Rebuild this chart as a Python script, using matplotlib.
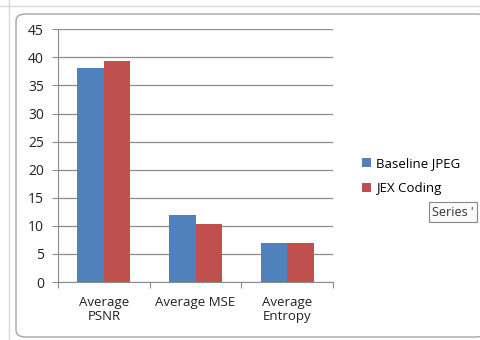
import numpy as np
import matplotlib.pyplot as plt
from matplotlib.patches import FancyBboxPatch

# data
categories = ['Average\nPSNR', 'Average MSE', 'Average\nEntropy']
baseline_jpeg = [38.1, 11.9, 6.9]
jex_coding = [39.3, 10.3, 6.9]
yticks = [0, 5, 10, 15, 20, 25, 30, 35, 40, 45]

blue = '#4F81BD'
red = '#C0504D'
gridc = '#8C8C8C'

plt.rcParams['font.family'] = ['Open Sans', 'DejaVu Sans']

fig = plt.figure(figsize=(4.8, 3.4), dpi=100)
W, H = 480, 340

# chart-area frame (rounded) like the excel screenshot
frame = FancyBboxPatch((16 / W, 3 / H), 470 / W, 323 / H,
                       boxstyle='round,pad=0,rounding_size=0.02',
                       transform=fig.transFigure, facecolor='white',
                       edgecolor='#A6A6A6', linewidth=1.0, zorder=-10)
fig.patches.append(frame)
# light sheet border lines at left / top
fig.add_artist(plt.Line2D([9 / W, 9 / W], [0, 1], color='#D9D9D9', lw=1, zorder=-11))
fig.add_artist(plt.Line2D([0, 1], [(H - 6) / H, (H - 6) / H], color='#D9D9D9', lw=1, zorder=-11))

ax = fig.add_axes([58 / W, (H - 282) / H, (333 - 58) / W, (282 - 29.3) / H])
ax.set_zorder(5)
ax.patch.set_alpha(0)
x = np.arange(len(categories))
w = 0.29
ax.bar(x - w / 2, baseline_jpeg, w, color=blue, label='Baseline JPEG', zorder=3)
ax.bar(x + w / 2, jex_coding, w, color=red, label='JEX Coding', zorder=3)

ax.set_xlim(-0.5, 2.5)
ax.set_ylim(0, 45)
ax.set_yticks(yticks)
ax.yaxis.grid(True, color=gridc, lw=0.9, zorder=0)
ax.set_axisbelow(True)
ax.set_xticks([-0.5, 0.5, 1.5, 2.5])
ax.set_xticklabels([])
ax.set_xticks(x, minor=True)
ax.set_xticklabels(categories, minor=True, fontsize=9.5, color='#222222', linespacing=1.15)
ax.tick_params(axis='x', which='minor', length=0, pad=10)
ax.tick_params(axis='x', which='major', length=4, color=gridc, direction='out')
ax.tick_params(axis='y', length=4, color=gridc, labelsize=10, labelcolor='#222222', pad=6)
for s in ['top', 'right']:
    ax.spines[s].set_visible(False)
ax.spines['left'].set_color(gridc)
ax.spines['bottom'].set_color(gridc)

leg = fig.legend(loc='center left', bbox_to_anchor=(350 / W, 1 - 176 / H),
                 frameon=False, fontsize=9.5, handlelength=0.7, handleheight=0.7,
                 handletextpad=0.4, labelspacing=0.9)

# tooltip fragment
fig.text(432 / W, 1 - 212 / H, "Series '", fontsize=9, color='#333333', va='center',
         bbox=dict(boxstyle='square,pad=0.25', fc='#FAFAFA', ec='#888888', lw=0.8))

fig.savefig('out.png', dpi=100)
